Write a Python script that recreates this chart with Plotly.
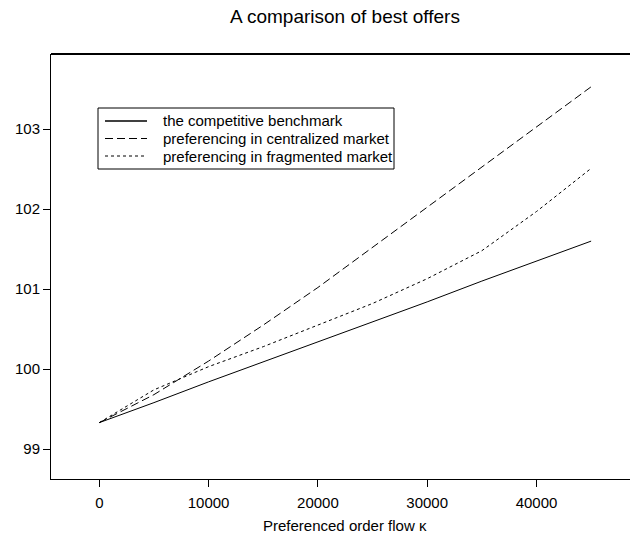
import plotly.graph_objects as go

flow = [0, 5000, 10000, 15000, 20000, 25000, 30000, 35000, 40000, 45000]
benchmark = [99.33, 99.58, 99.84, 100.09, 100.34, 100.59, 100.84, 101.10, 101.35, 101.60]
centralized = [99.33, 99.68, 100.10, 100.55, 101.02, 101.52, 102.03, 102.53, 103.03, 103.53]
fragmented = [99.33, 99.74, 100.03, 100.28, 100.55, 100.82, 101.13, 101.48, 101.97, 102.51]

names = ["the competitive benchmark",
         "preferencing in centralized market",
         "preferencing in fragmented market"]
series = [benchmark, centralized, fragmented]
dashes = ["solid", "8px,4px", "3px,3px"]

FONT = "Liberation Sans, Arial, Helvetica, sans-serif"
W, H = 630, 537
L, R, T, B = 51, 0, 54, 58
pw, ph = W - L - R, H - T - B

fig = go.Figure()
for nm, ys, d in zip(names, series, dashes):
    fig.add_trace(go.Scatter(x=flow, y=ys, mode="lines", name=nm, showlegend=False,
                             line=dict(color="black", width=1, dash=d)))

def px_x(px):
    return (px - L) / pw

def px_y(py):
    return (H - B - py) / ph

shapes = [
    dict(type="line", xref="paper", yref="paper", x0=0, x1=1, y0=1, y1=1,
         line=dict(color="black", width=2)),
    dict(type="rect", xref="paper", yref="paper", x0=px_x(98), x1=px_x(394),
         y0=px_y(169), y1=px_y(108), line=dict(color="black", width=1), fillcolor="white"),
]
annotations = []
rows = [121, 138.5, 156]
for nm, d, ry in zip(names, dashes, rows):
    shapes.append(dict(type="line", xref="paper", yref="paper", x0=px_x(105), x1=px_x(147),
                       y0=px_y(ry), y1=px_y(ry),
                       line=dict(color="black", width=1.5 if d == "solid" else 1, dash=d)))
    annotations.append(dict(xref="paper", yref="paper", x=px_x(161), y=px_y(ry),
                            text=nm, showarrow=False, xanchor="left", yanchor="middle",
                            font=dict(family=FONT, size=15, color="black")))

annotations.append(dict(xref="paper", yref="paper", x=px_x(345), y=px_y(525),
                        text="Preferenced order flow \u03ba", showarrow=False,
                        xanchor="center", yanchor="middle",
                        font=dict(family=FONT, size=15, color="black")))

fig.update_layout(
    width=W, height=H,
    margin=dict(l=L, r=R, t=T, b=B),
    paper_bgcolor="white", plot_bgcolor="white",
    font=dict(family=FONT, size=15, color="black"),
    title=dict(text="A comparison of best offers", x=345 / W, xanchor="center",
               y=1 - 16 / H, yanchor="middle", font=dict(family=FONT, size=19, color="black")),
    shapes=shapes, annotations=annotations,
    showlegend=False,
)
fig.update_xaxes(range=[-4419, 48555], tickvals=[0, 10000, 20000, 30000, 40000],
                 ticktext=["0", "10000", "20000", "30000", "40000"],
                 showgrid=False, zeroline=False, showline=True, linecolor="black", linewidth=1,
                 ticks="outside", ticklen=7, tickcolor="black", tickwidth=1,
                 ticklabelstandoff=3,
                 tickfont=dict(family=FONT, size=15, color="black"))
fig.update_yaxes(range=[98.625, 103.94], tickvals=[99, 100, 101, 102, 103],
                 ticktext=["99", "100", "101", "102", "103"],
                 showgrid=False, zeroline=False, showline=True, linecolor="black", linewidth=1,
                 ticks="outside", ticklen=7, tickcolor="black", tickwidth=1,
                 tickfont=dict(family=FONT, size=15, color="black"))

fig.write_html("out.html")
